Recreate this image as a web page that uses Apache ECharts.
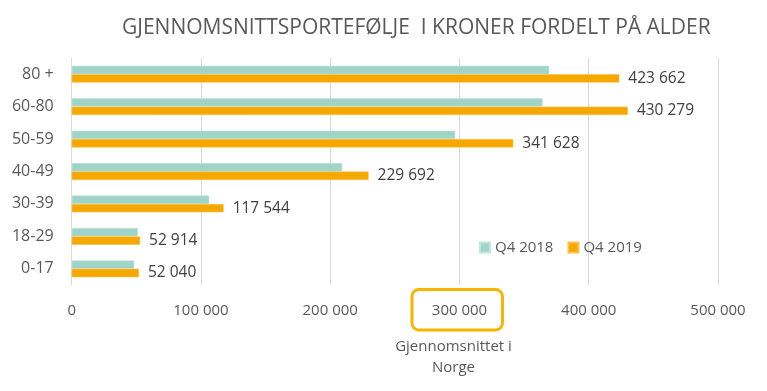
<!DOCTYPE html>
<html>
<head>
<meta charset="utf-8">
<script src="https://cdn.jsdelivr.net/npm/echarts@6/dist/echarts.min.js"></script>
<style>html,body{margin:0;padding:0;background:#fff;}#c{width:767px;height:391px;}</style>
</head>
<body>
<div id="c"></div>
<script>
var categories = ['0-17', '18-29', '30-39', '40-49', '50-59', '60-80', '80 +'];
var q4_2018 = [48400, 51300, 106400, 209300, 296700, 364300, 369400];
var q4_2019 = [52040, 52914, 117544, 229692, 341628, 430279, 423662];
var highlightTick = 300000;
var highlightNote = 'Gjennomsnittet i\nNorge';

function fmt(v) {
  return String(Math.round(v)).replace(/\B(?=(\d{3})+(?!\d))/g, ' ');
}

var chart = echarts.init(document.getElementById('c'));
var FONT = 'Open Sans';
var GRID = { left: 71.7, right: 49, top: 58, bottom: 106 };
chart.setOption({
  animation: false,
  backgroundColor: '#ffffff',
  textStyle: { fontFamily: FONT },
  title: {
    text: 'GJENNOMSNITTSPORTEFØLJE  I KRONER FORDELT PÅ ALDER',
    left: 117, top: 13,
    textStyle: { fontFamily: FONT, fontSize: 21, fontWeight: 'normal', color: '#595959' }
  },
  legend: {
    data: ['Q4 2018', 'Q4 2019'],
    left: 474, top: 235,
    itemWidth: 10, itemHeight: 10, itemGap: 14,
    icon: 'rect',
    textStyle: { fontFamily: FONT, fontSize: 15, color: '#595959' }
  },
  grid: { left: GRID.left, right: GRID.right, top: GRID.top, bottom: GRID.bottom, containLabel: false },
  xAxis: {
    type: 'value', min: 0, max: 500000, interval: 100000,
    axisLine: { show: false }, axisTick: { show: false },
    splitLine: { lineStyle: { color: '#d9d9d9', width: 1 } },
    axisLabel: {
      margin: 18, fontFamily: FONT, fontSize: 15, color: '#595959',
      formatter: function (v) { return fmt(v); }
    }
  },
  yAxis: {
    type: 'category', data: categories,
    axisLine: { show: false }, axisTick: { show: false },
    axisLabel: { margin: 18, fontFamily: FONT, fontSize: 16, color: '#595959' }
  },
  series: [
    {
      name: 'Q4 2018', type: 'bar', data: q4_2018,
      barCategoryGap: '48%', barGap: '0%',
      itemStyle: { color: '#A1D4C9', borderColor: '#C2E4DC', borderWidth: 0.6 }
    },
    {
      name: 'Q4 2019', type: 'bar', data: q4_2019,
      barCategoryGap: '48%', barGap: '0%',
      itemStyle: { color: '#F5A800', borderColor: '#F9C24A', borderWidth: 0.6 },
      label: { show: true, position: 'right', distance: 9, fontFamily: FONT, fontSize: 15.5, color: '#404040',
               formatter: function (p) { return fmt(p.value); } }
    }
  ]
});

// annotation box around the highlighted tick, positioned through the axis scale
var px = chart.convertToPixel({ xAxisIndex: 0 }, highlightTick);
var axisY = 391 - GRID.bottom;
chart.setOption({
  graphic: [
    {
      type: 'rect', silent: true,
      shape: { x: px - 47.5, y: axisY + 4.5, width: 90.5, height: 40.5, r: 7 },
      style: { fill: 'none', stroke: '#F7B500', lineWidth: 3 }
    },
    {
      type: 'text', silent: true,
      x: px - 6, y: axisY + 51,
      style: { text: highlightNote, fontFamily: FONT, fontSize: 15, fill: '#595959',
               align: 'center', verticalAlign: 'top', lineHeight: 21 }
    }
  ]
});
</script>
</body>
</html>
